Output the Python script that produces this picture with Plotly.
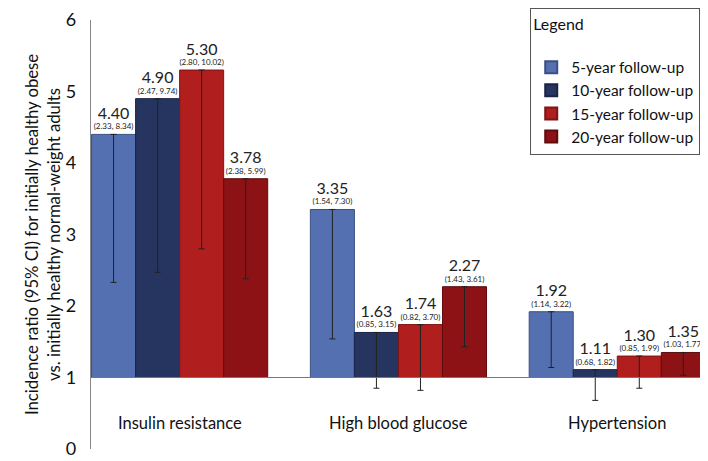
import plotly.graph_objects as go

categories = ["Insulin resistance", "High blood glucose", "Hypertension"]
series = ["5-year follow-up", "10-year follow-up", "15-year follow-up", "20-year follow-up"]

ratio_5y = [4.40, 3.35, 1.92]
low_5y = [2.33, 1.54, 1.14]
high_5y = [8.34, 7.30, 3.22]

ratio_10y = [4.90, 1.63, 1.11]
low_10y = [2.47, 0.85, 0.68]
high_10y = [9.74, 3.15, 1.82]

ratio_15y = [5.30, 1.74, 1.30]
low_15y = [2.80, 0.82, 0.85]
high_15y = [10.02, 3.70, 1.99]

ratio_20y = [3.78, 2.27, 1.35]
low_20y = [2.38, 1.43, 1.03]
high_20y = [5.99, 3.61, 1.77]

ratios = [ratio_5y, ratio_10y, ratio_15y, ratio_20y]
lows = [low_5y, low_10y, low_15y, low_20y]
highs = [high_5y, high_10y, high_15y, high_20y]

colors = ["#5470B0", "#26355F", "#B01E1E", "#8C1216"]
edges = ["#3a4f85", "#1a2445", "#7e1414", "#5e0c0e"]

FONT = "Lato"
base = 1

fig = go.Figure()
for name, r, lo, hi, c, e in zip(series, ratios, lows, highs, colors, edges):
    labels = [f"<span style='font-size:16px'>{v:.2f}</span><br>({a:.2f}, {b:.2f})"
              for v, a, b in zip(r, lo, hi)]
    fig.add_trace(go.Bar(
        name=name,
        x=categories,
        y=[v - base for v in r],
        base=base,
        marker=dict(color=c, line=dict(color=e, width=1)),
        error_y=dict(type="data", symmetric=False,
                     array=[0] * len(r),
                     arrayminus=[v - a for v, a in zip(r, lo)],
                     color="#222222", thickness=1, width=3),
        text=labels,
        textposition="outside",
        constraintext="none",
        cliponaxis=False,
        textfont=dict(family=FONT, size=8, color="#222222"),
    ))

# reference line at ratio = 1
fig.add_shape(type="line", xref="paper", yref="y", x0=0, x1=1, y0=base, y1=base,
              line=dict(color="#777777", width=1.2), layer="above")

# category labels sit inside the plot between 0 and 1
for cat in categories:
    fig.add_annotation(x=cat, y=0.36, text=cat, showarrow=False,
                       font=dict(family=FONT, size=16.5, color="#111111"))

# y-axis title
fig.add_annotation(xref="paper", yref="paper", x=-0.116, y=0.5, textangle=-90,
                   text="Incidence ratio (95% CI) for initially healthy obese<br>vs. initially healthy normal-weight adults",
                   showarrow=False, font=dict(family=FONT, size=16.7, color="#111111"))

# page body has an 8px margin, so the figure is 8px smaller than the window
fig.update_layout(
    width=700, height=453,
    margin=dict(l=83, r=1, t=12, b=12, autoexpand=False),
    plot_bgcolor="white", paper_bgcolor="white",
    barmode="group", bargap=0.195, bargroupgap=0,
    font=dict(family=FONT, color="#111111"),
    showlegend=True,
    legend=dict(
        title=dict(text="Legend<br> ", font=dict(family=FONT, size=16, color="#111111")),
        x=0.989, y=1.028, xanchor="right", yanchor="top",
        bgcolor="white", bordercolor="#555555", borderwidth=1,
        font=dict(family=FONT, size=15.5, color="#111111"),
        itemsizing="constant",
    ),
    xaxis=dict(range=[-0.405, 2.41], showticklabels=False, showline=False,
               showgrid=False, zeroline=False, ticks="", automargin=False),
    yaxis=dict(range=[0, 6], dtick=1, showline=True, linecolor="#888888", linewidth=1.2,
               showgrid=False, zeroline=False, ticks="outside", ticklen=10,
               tickcolor="rgba(0,0,0,0)", automargin=False,
               tickfont=dict(family=FONT, size=18, color="#111111")),
)

fig.write_html("out.html")
